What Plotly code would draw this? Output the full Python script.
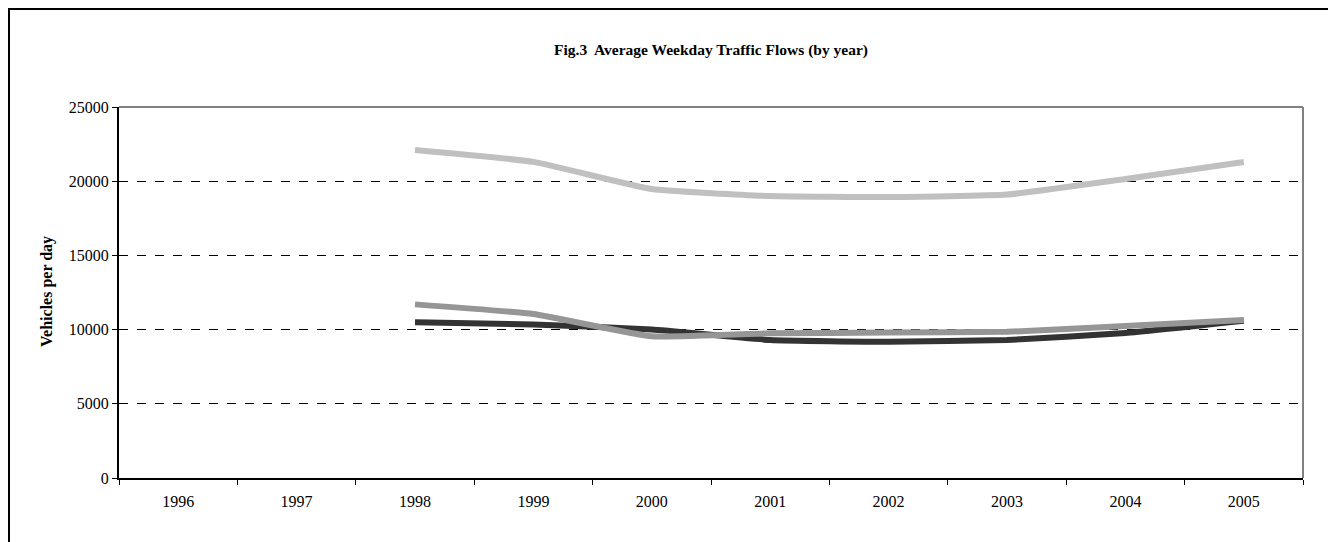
import plotly.graph_objects as go

years = ["1996", "1997", "1998", "1999", "2000", "2001", "2002", "2003", "2004", "2005"]
series_dark = [None, None, 10500, 10350, 10000, 9300, 9180, 9300, 9770, 10600]
series_mid = [None, None, 11700, 11050, 9550, 9750, 9800, 9850, 10240, 10650]
series_light = [None, None, 22100, 21300, 19470, 19000, 18930, 19100, 20150, 21300]
y_ticks = [0, 5000, 10000, 15000, 20000, 25000]

FONT = "Liberation Serif, Times New Roman, serif"

W, H = 1336, 542
L, T, R, B = 111, 99, 41, 72
PW, PH = W - L - R, H - T - B

fig = go.Figure()
for vals, col in [(series_dark, "#333333"), (series_mid, "#969696"), (series_light, "#C0C0C0")]:
    fig.add_trace(go.Scatter(
        x=years, y=vals, mode="lines",
        line=dict(color=col, width=6, shape="spline", smoothing=0.4),
        connectgaps=False, showlegend=False, hoverinfo="x+y",
    ))

fig.update_layout(
    width=W, height=H,
    margin=dict(l=L, r=R, t=T, b=B),
    paper_bgcolor="white", plot_bgcolor="white",
    font=dict(family=FONT, size=16, color="black"),
    title=dict(text="<b>Fig.3  Average Weekday Traffic Flows (by year)</b>",
               x=0.5, xref="paper", y=1 - 42 / H, yref="container", yanchor="middle",
               font=dict(family=FONT, size=15.5, color="black")),
)

fig.update_xaxes(
    type="category", categoryorder="array", categoryarray=years,
    range=[-0.5, len(years) - 0.5],
    showline=True, linecolor="black", linewidth=2,
    ticks="outside", ticklen=5, tickwidth=1, tickcolor="black",
    tickson="boundaries", showgrid=False, mirror=False,
    ticklabelstandoff=8,
    tickfont=dict(family=FONT, size=16),
)
fig.update_yaxes(
    range=[0, 25000], tickvals=y_ticks, ticktext=[str(v) for v in y_ticks],
    showline=True, linecolor="black", linewidth=2,
    ticks="outside", ticklen=5, tickwidth=1, tickcolor="black",
    showgrid=True, gridcolor="black", gridwidth=1, griddash="dash",
    zeroline=False, tickfont=dict(family=FONT, size=16),
)

# plot-area top and right border (gray)
fig.add_shape(type="line", xref="paper", yref="paper", x0=0, x1=1, y0=1, y1=1,
              line=dict(color="#808080", width=2))
fig.add_shape(type="line", xref="paper", yref="paper", x0=1, x1=1, y0=0, y1=1,
              line=dict(color="#808080", width=2))
# outer chart border
fig.add_shape(type="rect", xref="paper", yref="paper",
              x0=(1 - L) / PW, x1=(1324 - L) / PW,
              y0=-(H + 10 - (H - B)) / PH, y1=(H - B - 1) / PH,
              line=dict(color="black", width=2), fillcolor="rgba(0,0,0,0)", layer="below")

fig.add_annotation(text="<b>Vehicles per day</b>", xref="paper", yref="paper",
                   x=(39 - L) / PW, y=((H - B) - 284) / PH, textangle=-90,
                   showarrow=False, xanchor="center", yanchor="middle",
                   font=dict(family=FONT, size=16, color="black"))

fig.write_html("out.html")
